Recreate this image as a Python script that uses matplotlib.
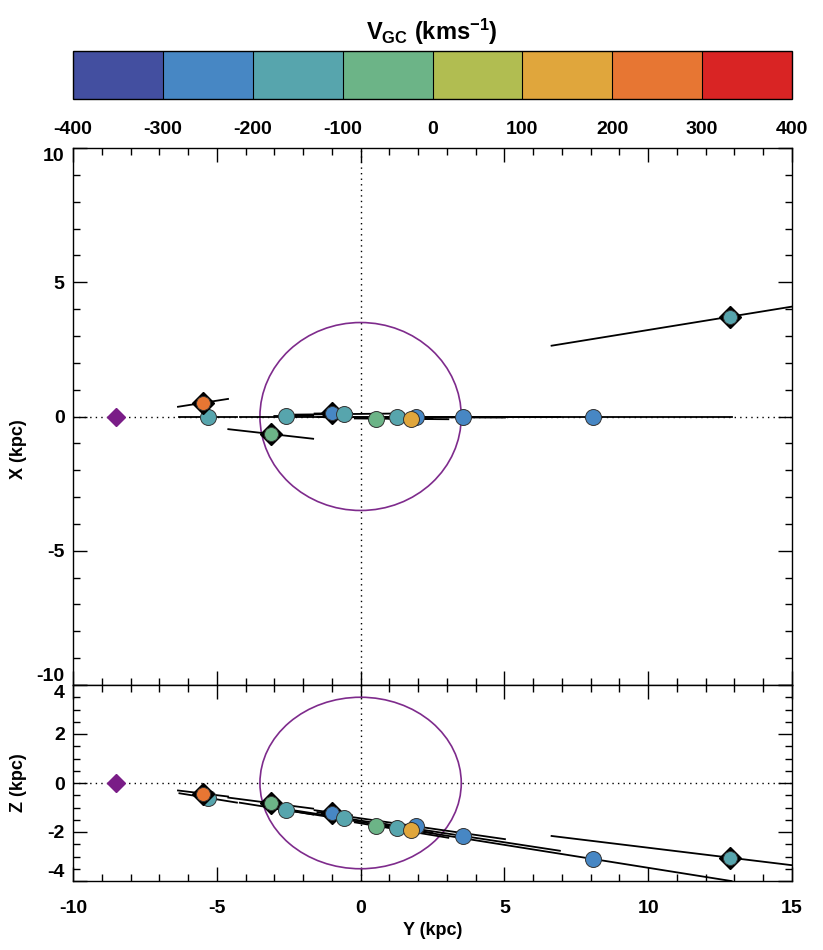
import numpy as np
import matplotlib
matplotlib.use("Agg")
import matplotlib.pyplot as plt
from matplotlib.colors import ListedColormap, BoundaryNorm
from matplotlib.cm import ScalarMappable
from matplotlib.patches import Circle
from matplotlib.ticker import MultipleLocator

plt.rcParams['font.family'] = ['Liberation Sans', 'DejaVu Sans']
plt.rcParams['font.weight'] = 'bold'
plt.rcParams['axes.unicode_minus'] = False
plt.rcParams['mathtext.fontset'] = 'custom'
plt.rcParams['mathtext.rm'] = 'Liberation Sans:bold'
plt.rcParams['mathtext.default'] = 'rm'

# colour scale (V_GC, km/s)
v_bounds = [-400, -300, -200, -100, 0, 100, 200, 300, 400]
v_colors = ['#434fa0', '#4787c4', '#57a5ad', '#6cb487',
            '#b1bd51', '#e0a63c', '#e77633', '#d92424']

# Sun position
sun_y = -8.5
sun_x = 0.0
sun_z = 0.0

# objects (Galactocentric Y, X, Z in kpc), drawn in this order
obj_y = [-5.30, -5.47, -3.13, -2.59, -0.98, -0.58, 0.54, 1.26, 1.94, 1.75, 3.55, 8.07, 12.86]
obj_x = [0.00, 0.51, -0.65, 0.02, 0.12, 0.09, -0.08, 0.00, -0.03, -0.08, 0.00, 0.00, 3.72]
obj_z = [-0.61, -0.43, -0.82, -1.11, -1.21, -1.43, -1.75, -1.82, -1.77, -1.90, -2.16, -3.10, -3.05]
obj_v = [-150, 250, -50, -150, -250, -150, -50, -150, -250, 150, -250, -250, -150]
obj_diamond = [False, True, True, False, True, False, False, False, False, False, False, False, True]
# distance range along the line of sight, given as Y limits
seg_lo = [-6.30, -6.35, -4.60, -3.00, -1.60, -2.50, -0.20, 0.60, -1.50, 1.00, 0.50, -4.20, 6.64]
seg_hi = [-4.30, -4.61, -1.65, -1.65, -0.30, 1.50, 3.05, 2.00, 5.02, 2.50, 6.93, 12.90, 16.00]

cmap = ListedColormap(v_colors)
norm = BoundaryNorm(v_bounds, cmap.N)

W, H = 823, 950
fig = plt.figure(figsize=(W / 100, H / 100), dpi=100)
left, width = 73 / W, 719 / W
cax = fig.add_axes([left, 1 - 99 / H, width, 48 / H])
ax1 = fig.add_axes([left, 1 - 685 / H, width, 537 / H])
ax2 = fig.add_axes([left, 1 - 881 / H, width, 196 / H])

# colour bar
cb = fig.colorbar(ScalarMappable(norm=norm, cmap=cmap), cax=cax,
                  orientation='horizontal', drawedges=True)
cb.set_ticks(v_bounds)
cb.set_ticklabels([str(b) for b in v_bounds])
cax.tick_params(length=0, pad=16, labelsize=14)
cb.outline.set_linewidth(1.0)
cb.dividers.set_linewidth(0.8)
fig.text(432 / W, 1 - 32 / H, r'V$_{GC}$ (kms$^{-1}$)', ha='center', va='center',
         fontsize=17, fontweight='bold')


def draw_panel(ax, obj_h, sun_h):
    ax.axhline(0, color='k', ls=(0, (1, 3)), lw=1, zorder=1)
    ax.axvline(0, color='k', ls=(0, (1, 3)), lw=1, zorder=1)
    ax.add_patch(Circle((0, 0), 3.5, fill=False, ec='#7e2b8c', lw=1.2, zorder=2))
    for i in range(len(obj_y)):
        yy = np.array([seg_lo[i], seg_hi[i]])
        hh = sun_h + (obj_h[i] - sun_h) * (yy - sun_y) / (obj_y[i] - sun_y)
        ax.plot(yy, hh, color='k', lw=1.3, zorder=3)
    ax.plot([sun_y], [sun_h], marker='D', ms=9, color='#7a1d87', mec='#7a1d87', zorder=5)
    for i in range(len(obj_y)):
        c = cmap(norm(obj_v[i]))
        if obj_diamond[i]:
            ax.plot([obj_y[i]], [obj_h[i]], marker='D', ms=11, color='k', mec='k',
                    zorder=6 + 2 * i)
            ax.plot([obj_y[i]], [obj_h[i]], marker='o', ms=10, color=c, mec='#333333',
                    mew=0.6, zorder=7 + 2 * i)
        else:
            ax.plot([obj_y[i]], [obj_h[i]], marker='o', ms=11.5, color=c, mec='#333333',
                    mew=0.7, zorder=7 + 2 * i)
    ax.set_xlim(-10, 15)
    ax.xaxis.set_major_locator(MultipleLocator(5))
    ax.xaxis.set_minor_locator(MultipleLocator(1))
    ax.tick_params(which='both', direction='in', top=True, right=True, width=1,
                   labelsize=14)
    ax.tick_params(which='major', length=10)
    ax.tick_params(which='minor', length=5)
    ax.tick_params(axis='x', pad=14)
    ax.tick_params(axis='y', pad=6)
    for s in ax.spines.values():
        s.set_linewidth(1)


draw_panel(ax1, obj_x, sun_x)
ax1.set_ylim(-10, 10)
ax1.set_yticks([-10, -5, 0, 5, 10])
ax1.yaxis.set_minor_locator(MultipleLocator(1))
ax1.tick_params(labelbottom=False)
ax1.set_ylabel('X (kpc)', fontsize=13, fontweight='bold')

draw_panel(ax2, obj_z, sun_z)
ax2.set_ylim(-4, 4)
ax2.set_yticks([-4, -2, 0, 2, 4])
ax2.yaxis.set_minor_locator(MultipleLocator(0.5))
ax2.set_xlabel('Y (kpc)', fontsize=13, fontweight='bold', labelpad=3)
ax2.set_ylabel('Z (kpc)', fontsize=13, fontweight='bold')

# y labels sit at the same x, X label a bit below the panel centre
ax1.yaxis.set_label_coords(-0.064, 0.44)
ax2.yaxis.set_label_coords(-0.064, 0.5)

# keep the edge labels inside their panels
t1 = ax1.yaxis.get_major_ticks()
t1[0].label1.set_va('bottom')
t1[-1].label1.set_va('top')
t2 = ax2.yaxis.get_major_ticks()
t2[0].label1.set_va('bottom')
t2[-1].label1.set_va('top')

plt.savefig('out.png', dpi=100)
